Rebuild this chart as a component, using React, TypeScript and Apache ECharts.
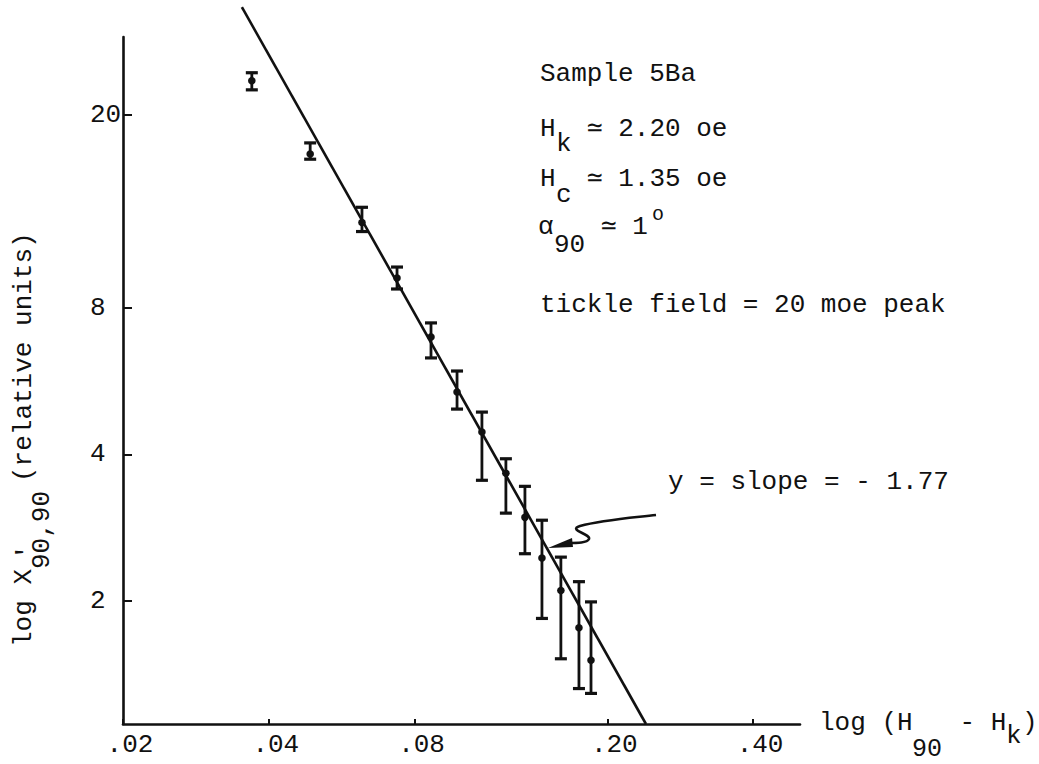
import React, { useEffect, useRef } from 'react';
import * as echarts from 'echarts';

// Axis ticks (log-log paper)
const X_TICKS = [0.02, 0.04, 0.08, 0.2, 0.4];
const X_TICK_LABELS = ['.02', '.04', '.08', '.20', '.40'];
const Y_TICKS = [2, 4, 8, 20];
const Y_TICK_LABELS = ['2', '4', '8', '20'];
const X_RANGE = [0.02, 0.5];
const Y_RANGE = [1.116, 28.9];

// Measured points: H90 - Hk  vs  X'90,90 (relative units), with error bars
const H_DIFF = [0.0369, 0.0487, 0.0623, 0.0736, 0.0865, 0.0979, 0.1102, 0.1235, 0.1352, 0.1466, 0.1604, 0.1748, 0.1851];
const CHI = [23.5, 16.6, 12.0, 9.23, 6.98, 5.38, 4.45, 3.66, 2.97, 2.45, 2.1, 1.76, 1.51];
const CHI_LOW = [22.5, 16.2, 11.5, 8.76, 6.32, 4.96, 3.54, 3.03, 2.5, 1.84, 1.52, 1.32, 1.29];
const CHI_HIGH = [24.4, 17.5, 12.9, 9.72, 7.46, 5.94, 4.89, 3.92, 3.44, 2.93, 2.46, 2.19, 1.99];

// Fitted line, slope -1.77
const FIT_X = [0.0352, 0.2404];
const FIT_Y = [33.3, 1.116];

const lg = Math.log10;
const FONT = "'Liberation Mono', 'DejaVu Sans Mono', 'Courier New', monospace";
const INK = '#111';

echarts.graphic.registerShape(
  'annotArrow',
  echarts.graphic.extendPath(
    'M656,515 C630,518 602,520 580,526 C567,530 591,534 589,539 C587,543 578,543 567,543',
    {}
  )
);

function label(text: string, x: number, y: number, size = 26, extra: any = {}) {
  return {
    type: 'text',
    x,
    y,
    ...extra,
    style: {
      text,
      fill: INK,
      fontSize: size,
      fontFamily: FONT,
      align: 'left',
      verticalAlign: 'middle',
    },
  };
}

export default function App() {
  const ref = useRef<HTMLDivElement>(null);

  useEffect(() => {
    if (!ref.current) return;
    const chart = echarts.init(ref.current, null, { renderer: 'svg' });

    const errData = H_DIFF.map((x, i) => [lg(x), lg(CHI[i]), lg(CHI_LOW[i]), lg(CHI_HIGH[i])]);
    const fitData = FIT_X.map((x, i) => [lg(x), lg(FIT_Y[i])]);

    const xFmt = (v: number) => {
      const i = X_TICKS.findIndex((t) => Math.abs(lg(t) - v) < 1e-6);
      return i >= 0 ? X_TICK_LABELS[i] : '';
    };
    const yFmt = (v: number) => {
      const i = Y_TICKS.findIndex((t) => Math.abs(lg(t) - v) < 1e-6);
      return i >= 0 ? Y_TICK_LABELS[i] : '';
    };

    const rot = { rotation: Math.PI / 2 };

    chart.setOption({
      animation: false,
      backgroundColor: '#ffffff',
      grid: { left: 123, right: 239, top: 37, bottom: 40, containLabel: false },
      xAxis: {
        type: 'value',
        min: lg(X_RANGE[0]),
        max: lg(X_RANGE[1]),
        splitLine: { show: false },
        axisLine: { show: true, onZero: false, lineStyle: { color: INK, width: 2.6 } },
        axisTick: {
          show: true,
          inside: true,
          length: 5,
          customValues: X_TICKS.map(lg),
          lineStyle: { color: INK, width: 2 },
        },
        axisLabel: {
          customValues: X_TICKS.map(lg),
          formatter: xFmt,
          color: INK,
          fontSize: 26,
          fontFamily: FONT,
          margin: 8,
          padding: [0, 0, 0, 14],
        },
      },
      yAxis: {
        type: 'value',
        min: lg(Y_RANGE[0]),
        max: lg(Y_RANGE[1]),
        splitLine: { show: false },
        axisLine: { show: true, onZero: false, lineStyle: { color: INK, width: 2.6 } },
        axisTick: {
          show: true,
          inside: true,
          length: 9,
          customValues: Y_TICKS.map(lg),
          lineStyle: { color: INK, width: 2 },
        },
        axisLabel: {
          customValues: Y_TICKS.map(lg),
          formatter: yFmt,
          color: INK,
          fontSize: 26,
          fontFamily: FONT,
          align: 'left',
          margin: 33,
        },
      },
      series: [
        {
          type: 'line',
          data: fitData,
          clip: false,
          symbol: 'none',
          lineStyle: { color: INK, width: 2.6 },
          z: 3,
        },
        {
          type: 'custom',
          data: errData,
          encode: { x: 0, y: [1, 2, 3] },
          clip: false,
          z: 4,
          renderItem: (params: any, api: any) => {
            const x = api.value(0);
            const c = api.coord([x, api.value(1)]);
            const lo = api.coord([x, api.value(2)]);
            const hi = api.coord([x, api.value(3)]);
            const w = 6;
            const st = { stroke: INK, lineWidth: 2.8 };
            return {
              type: 'group',
              children: [
                { type: 'line', shape: { x1: c[0], y1: hi[1], x2: c[0], y2: lo[1] }, style: st },
                { type: 'line', shape: { x1: c[0] - w, y1: hi[1], x2: c[0] + w, y2: hi[1] }, style: { ...st, lineWidth: 3.2 } },
                { type: 'line', shape: { x1: c[0] - w, y1: lo[1], x2: c[0] + w, y2: lo[1] }, style: { ...st, lineWidth: 3.2 } },
                { type: 'circle', shape: { cx: c[0], cy: c[1], r: 3.8 }, style: { fill: INK } },
              ],
            };
          },
        },
      ],
      graphic: [
        // Sample annotations
        label('Sample 5Ba', 540, 74),
        label('H', 540, 129),
        label('k', 556, 144),
        label('\u2243 2.20 oe', 587, 129),
        label('H', 540, 179),
        label('c', 556, 195),
        label('\u2243 1.35 oe', 587, 179),
        label('\u03b1', 538, 227),
        label('90', 554, 245),
        label('\u2243 1', 601, 227),
        label('o', 652, 214, 20),
        label('tickle field = 20 moe peak', 540, 305),
        label('y = slope = - 1.77', 668, 482),
        // x-axis title
        label('log (H', 819, 723),
        label('90', 912, 749, 25),
        label(' - H', 944, 723),
        label('k', 1006, 736),
        label(')', 1022, 723),
        // y-axis title (rotated)
        label('log X', 24, 647, 26, rot),
        label('\u2032', 27, 560, 26, rot),
        label('90,90', 42, 569, 26, rot),
        label('(relative units)', 24, 482, 26, rot),
        // arrow pointing to the fitted line
        {
          type: 'annotArrow',
          x: 0,
          y: 0,
          style: { stroke: INK, lineWidth: 2.6, fill: 'none' },
        },
        {
          type: 'polygon',
          shape: { points: [[548, 548], [572, 538], [573, 547]] },
          style: { fill: INK },
        },
      ],
    });

    return () => chart.dispose();
  }, []);

  return (
    <div
      ref={ref}
      style={{ position: 'fixed', left: 0, top: 0, width: 1039, height: 764, background: '#fff' }}
    />
  );
}
